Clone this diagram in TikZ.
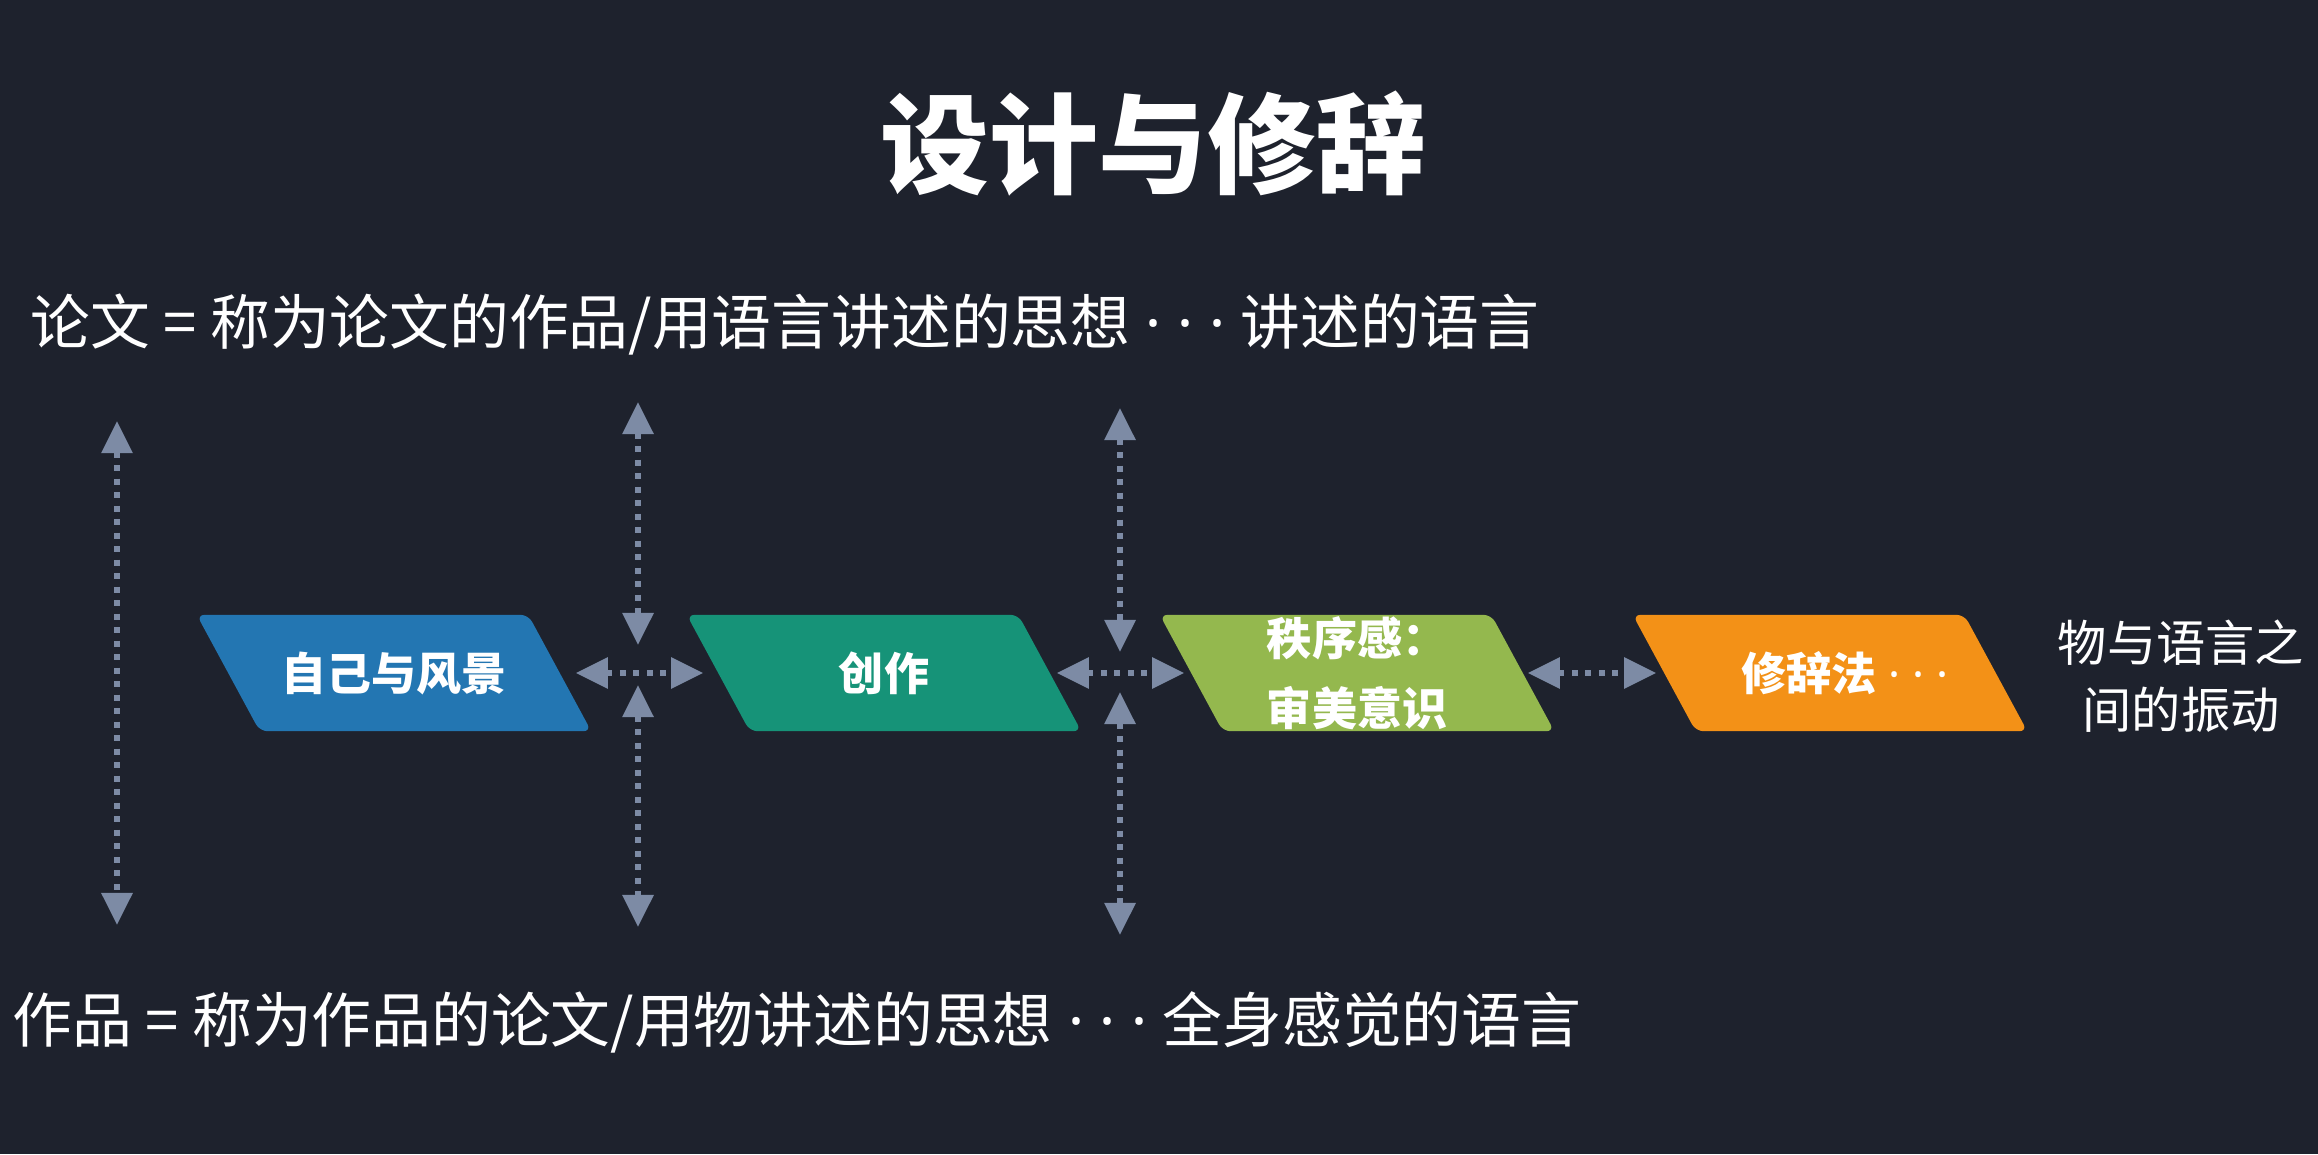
\documentclass[tikz,border=0pt]{standalone}
\usepackage{fontspec}
\setmainfont{Noto Sans CJK SC}
\newfontfamily\latin{Noto Sans}
\usetikzlibrary{arrows.meta}

\definecolor{bgdark}{RGB}{30,34,45}
\definecolor{boxblue}{RGB}{35,118,178}
\definecolor{boxteal}{RGB}{22,147,120}
\definecolor{boxgreen}{RGB}{148,184,78}
\definecolor{boxorange}{RGB}{243,145,23}
\definecolor{linkgray}{RGB}{125,139,165}

\pgfdeclarelayer{back}
\pgfsetlayers{back,main}

\newcommand{\tridots}{{\latin\ ·\ ·\ ·\ }}

\tikzstyle{title} = [text=white, inner sep=0pt, font=\bfseries\fontsize{31pt}{37pt}\selectfont]
\tikzstyle{line} = [text=white, inner sep=0pt, anchor=west, font=\fontsize{17pt}{20pt}\selectfont]
\tikzstyle{note} = [text=white, inner sep=0pt, align=center, font=\fontsize{14pt}{19pt}\selectfont]
\tikzstyle{box} = [minimum width=3.3cm, minimum height=1.15cm, inner sep=0pt, text=white, align=center, font=\bfseries\fontsize{12.8pt}{19.9pt}\selectfont]
\tikzstyle{link} = [draw=linkgray, line width=1.7pt, dash pattern=on 0.06cm off 0.075cm, >={Triangle[length=0.32cm,width=0.30cm]}, <->]

\newcommand{\slantfill}[2]{\fill[#2, rounded corners=0.08cm] ([xshift=-0.315cm]#1.north west) -- ([xshift=-0.315cm]#1.north east) -- ([xshift=0.315cm]#1.south east) -- ([xshift=0.315cm]#1.south west) -- cycle;}

\begin{document}
\begin{tikzpicture}[x=0.01cm, y=-0.01cm]
	\begin{pgfonlayer}{back}
	\fill[bgdark] (0,0) rectangle (2318,1154);
	\end{pgfonlayer}
	\useasboundingbox (0,0) rectangle (2318,1154);

	\node[title] (title) at (1153,144) {设计与修辞};
	\node[line] (thesis) at (30,325) {论文 = 称为论文的作品/用语言讲述的思想\tridots 讲述的语言};
	\node[line] (work) at (12,1022) {作品 = 称为作品的论文/用物讲述的思想\tridots 全身感觉的语言};

	\node[box] (b1) at (394,673) {自己与风景};
	\node[box] (b2) at (884,673) {创作};
	\node[box] (b3) at (1357,673) {秩序感：\\审美意识};
	\node[box] (b4) at (1830,673) {\hspace*{0.3cm}修辞法{\latin\ ·\ ·\ ·}};
	\node[note] (vib) at (2181,676) {物与语言之\\间的振动};

	\begin{pgfonlayer}{back}
	\slantfill{b1}{boxblue}
	\slantfill{b2}{boxteal}
	\slantfill{b3}{boxgreen}
	\slantfill{b4}{boxorange}
	\end{pgfonlayer}

	\coordinate (p1) at (117,421);
	\coordinate (q1) at (117,925);
	\coordinate (p2) at (638,402);
	\coordinate (m2) at (638,645);
	\coordinate (n2) at (638,685);
	\coordinate (q2) at (638,927);
	\coordinate (p3) at (1120,408);
	\coordinate (m3) at (1120,652);
	\coordinate (n3) at (1120,692);
	\coordinate (q3) at (1120,935);

	\draw[link] (p1) -- (q1);
	\draw[link] (p2) -- (m2);
	\draw[link] (n2) -- (q2);
	\draw[link] (p3) -- (m3);
	\draw[link] (n3) -- (q3);
	\draw[link, shorten <=0.16cm, shorten >=0.15cm] (b1) -- (b2);
	\draw[link, shorten <=0.07cm, shorten >=0.07cm] (b2) -- (b3);
	\draw[link, shorten <=0.05cm, shorten >=0.08cm] (b3) -- (b4);
\end{tikzpicture}
\end{document}
